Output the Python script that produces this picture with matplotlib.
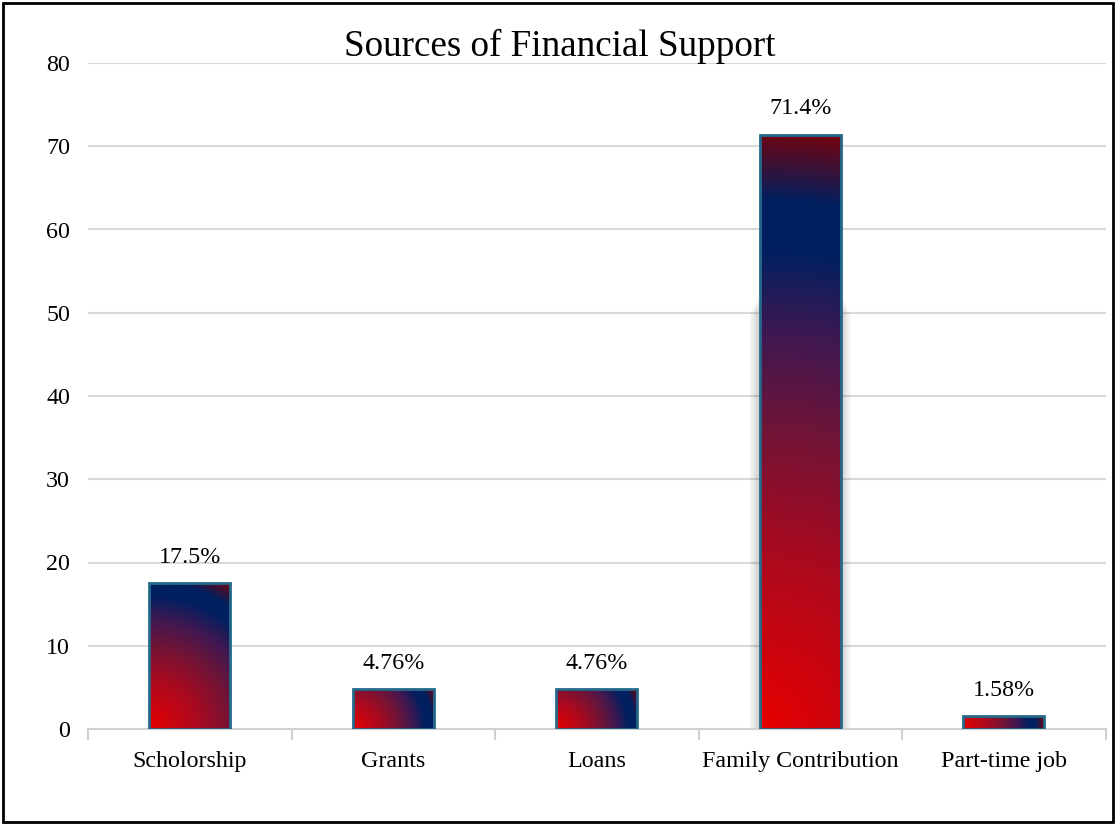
import matplotlib.pyplot as plt
import numpy as np
from matplotlib.patches import Rectangle

plt.rcParams['font.family'] = ['Liberation Serif', 'DejaVu Serif']

# data
categories = ["Scholorship", "Grants", "Loans", "Family Contribution", "Part-time job"]
values = [17.5, 4.76, 4.76, 71.4, 1.58]
labels = ["17.5%", "4.76%", "4.76%", "71.4%", "1.58%"]
yticks = [0, 10, 20, 30, 40, 50, 60, 70, 80]

# path gradient from the bottom-left corner: red -> maroon -> navy -> dark red
stops = [0.0, 0.3, 0.5, 0.66, 0.8, 0.88, 1.0]
stop_cols = np.array([
    [232, 0, 0],
    [168, 10, 32],
    [112, 20, 55],
    [62, 24, 82],
    [0, 32, 96],
    [0, 32, 96],
    [118, 2, 12],
]) / 255.0


def gradient_image(w_px, h_px):
    nx = max(int(w_px), 2)
    ny = max(int(h_px), 2)
    X, Y = np.meshgrid(np.linspace(0, w_px, nx), np.linspace(0, h_px, ny))
    t = np.sqrt(X ** 2 + Y ** 2) / np.hypot(w_px, h_px)
    img = np.zeros((ny, nx, 3))
    for c in range(3):
        img[..., c] = np.interp(t, stops, stop_cols[:, c])
    return img


fig = plt.figure(figsize=(11.16, 8.25), dpi=100)
ax = fig.add_axes([88 / 1116, 96 / 825, (1105.5 - 88) / 1116, (729 - 63) / 825])

x = np.arange(len(categories))
width = 0.4
bars = ax.bar(x, values, width=width, color='none', edgecolor='#25698A', linewidth=2, zorder=4)

ax.set_xlim(-0.5, len(categories) - 0.5)
ax.set_ylim(0, 80)
fig.canvas.draw()

for i, b in enumerate(bars):
    x0 = b.get_x()
    h = b.get_height()
    (px0, py0), (px1, py1) = ax.transData.transform([(x0, 0), (x0 + width, h)])
    # soft shadow around the lower part of the tallest bar
    if h > 50:
        for k in range(6):
            pad = 0.008 * (k + 1)
            ax.add_patch(Rectangle((x0 - pad, 0), width + 2 * pad, 52 - k * 0.4, color='black',
                                   alpha=0.03, lw=0, zorder=2))
    im = ax.imshow(gradient_image(px1 - px0, py1 - py0), extent=[x0, x0 + width, 0, h],
                   origin='lower', aspect='auto', zorder=3, interpolation='bilinear')
    im.set_clip_path(b)
    ax.annotate(labels[i], (x[i], h), xytext=(0, 11), textcoords='offset points',
                ha='center', va='bottom', fontsize=17.3, color='black')

ax.set_xlim(-0.5, len(categories) - 0.5)
ax.set_ylim(0, 80)
ax.set_yticks(yticks)
ax.set_xticks(x)
ax.set_xticklabels(categories)
ax.set_xticks(np.arange(-0.5, len(categories), 1), minor=True)
ax.tick_params(axis='x', which='major', length=0, pad=16, labelsize=17.3)
ax.tick_params(axis='x', which='minor', length=8, width=1.5, color='#D0D0D0')
ax.tick_params(axis='y', length=0, pad=13, labelsize=17.3)
ax.yaxis.grid(True, color='#D9D9D9', linewidth=1.5, zorder=0)
ax.set_axisbelow(True)
for s in ['top', 'right', 'left']:
    ax.spines[s].set_visible(False)
ax.spines['bottom'].set_color('#D0D0D0')
ax.spines['bottom'].set_linewidth(1.5)

fig.text(560 / 1116, 1 - 46 / 825, "Sources of Financial Support", ha='center', va='center',
         fontsize=26.7)

fig.patches.append(Rectangle((3 / 1116, 3 / 825), 1110 / 1116, 819 / 825, transform=fig.transFigure,
                             fill=False, edgecolor='black', linewidth=2))

fig.savefig("out.png", dpi=100)
